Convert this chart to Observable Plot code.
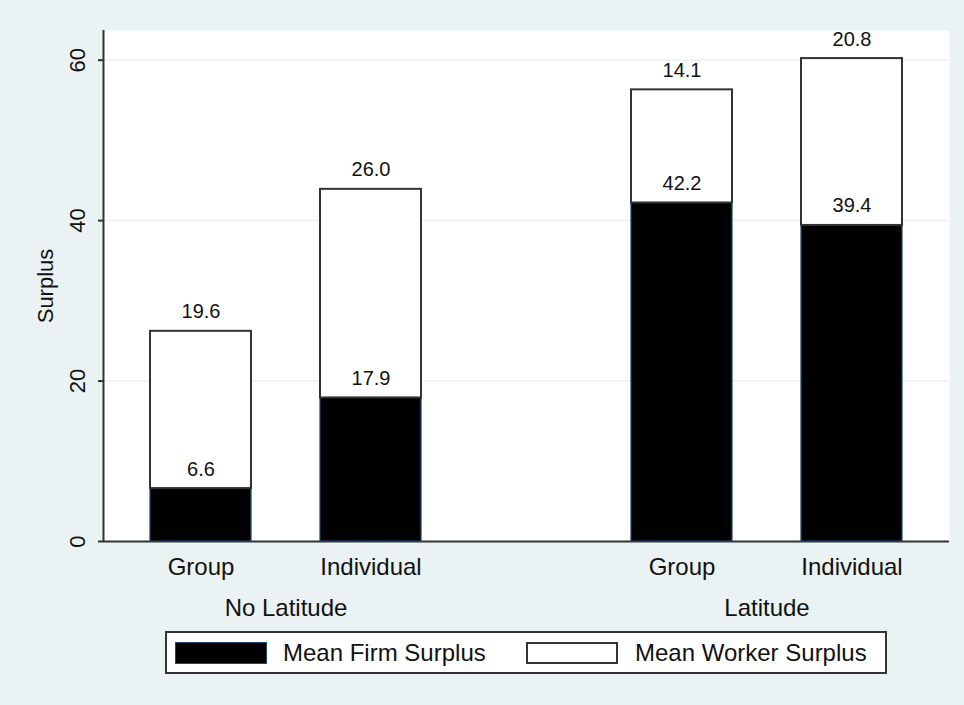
<!DOCTYPE html>
<html>
<head>
<meta charset="utf-8">
<script src="https://cdn.jsdelivr.net/npm/d3@7"></script>
<script src="https://cdn.jsdelivr.net/npm/@observablehq/plot@0.6"></script>
<style>
  html, body { margin: 0; padding: 0; background: #EAF2F3; }
  #wrap { position: relative; width: 964px; height: 705px; font-family: Arial, "Liberation Sans", sans-serif; color: #111; }
  #wrap > .layer { position: absolute; left: 0; top: 0; }
  #legend { position: absolute; left: 165px; top: 631px; width: 722px; height: 43px; box-sizing: border-box;
            border: 2px solid #333; background: #fff; }
  .sw { position: absolute; top: 9px; width: 92px; height: 22px; box-sizing: border-box; }
  .lt { position: absolute; top: 5px; font-size: 24px; line-height: 30px; white-space: nowrap; }
</style>
</head>
<body>
<div id="wrap"></div>
<script>
// ---- data ----
const conditions = ["No Latitude", "Latitude"];
const types = ["Group", "Individual"];
const seriesNames = ["Mean Firm Surplus", "Mean Worker Surplus"];
const firmSurplus = [6.6, 17.9, 42.2, 39.4];     // No Lat Group, No Lat Indiv, Lat Group, Lat Indiv
const workerSurplus = [19.6, 26.0, 14.1, 20.8];
const yTicks = [0, 20, 40, 60];
const yMax = 63.7;

const fills = {"Mean Firm Surplus": "black", "Mean Worker Surplus": "white"};
const strokes = {"Mean Firm Surplus": "#1a476f", "Mean Worker Surplus": "#333333"};
const strokeWidths = {"Mean Firm Surplus": 1.2, "Mean Worker Surplus": 2};

const rows = [];
conditions.forEach((c, ci) => types.forEach((t, ti) => {
  const i = ci * 2 + ti;
  rows.push({cond: c, type: t, series: seriesNames[0], value: firmSurplus[i]});
  rows.push({cond: c, type: t, series: seriesNames[1], value: workerSurplus[i]});
}));

const W = 964, H = 622;
const margins = {marginTop: 30, marginLeft: 103, marginRight: 15, marginBottom: 81};
const font = 'Arial, "Liberation Sans", sans-serif';

// background layer: plot region, grid, y axis, axis lines
const bg = Plot.plot({
  width: W, height: H, ...margins,
  style: {background: "transparent", fontFamily: font, color: "#111", overflow: "visible"},
  x: {domain: [0, 1], axis: null},
  y: {domain: [0, yMax], axis: null},
  marks: [
    Plot.frame({fill: "white", stroke: "none"}),
    Plot.ruleY(yTicks, {stroke: "#EAF2F3", strokeWidth: 1.5}),
    Plot.axisY({ticks: yTicks, tickSize: 5, tickPadding: 14, tickRotate: -90, fontSize: 22,
                stroke: "#333", strokeWidth: 2, label: "Surplus", labelAnchor: "center", labelOffset: 66, labelArrow: "none"}),
    Plot.ruleX([0], {stroke: "#333", strokeWidth: 2}),
    Plot.ruleY([0], {stroke: "#333", strokeWidth: 2})
  ]
});
bg.classList.add("layer");

// bars layer
const fg = Plot.plot({
  width: W, height: H, ...margins,
  style: {background: "transparent", fontFamily: font, color: "#111", overflow: "visible"},
  fx: {domain: conditions, paddingInner: 0.2412, paddingOuter: 0},
  x: {domain: types, paddingInner: 0.405, paddingOuter: 0.27},
  y: {domain: [0, yMax], axis: null},
  marks: [
    Plot.barY(rows, Plot.stackY({
      fx: "cond", x: "type", y: "value",
      fill: d => fills[d.series], stroke: d => strokes[d.series], strokeWidth: d => strokeWidths[d.series]
    })),
    Plot.text(rows, Plot.stackY2({
      fx: "cond", x: "type", y: "value", text: d => d.value.toFixed(1),
      fontSize: 20, fill: "#111", lineAnchor: "bottom", dy: -13
    })),
    Plot.axisX({tickSize: 0, tickPadding: 16, fontSize: 24, label: null}),
    Plot.axisFx({anchor: "bottom", tickSize: 0, tickPadding: 57, fontSize: 24, label: null})
  ]
});
fg.classList.add("layer");

const wrap = document.getElementById("wrap");
wrap.appendChild(bg);
wrap.appendChild(fg);

// legend
const legend = document.createElement("div");
legend.id = "legend";
const swLeft = [8, 359], txtLeft = [116, 468];
seriesNames.forEach((s, i) => {
  const sw = document.createElement("div");
  sw.className = "sw";
  sw.style.left = swLeft[i] + "px";
  sw.style.background = fills[s];
  sw.style.border = (i === 0 ? "1.2px solid #1a476f" : "2px solid #333");
  legend.appendChild(sw);
  const t = document.createElement("div");
  t.className = "lt";
  t.style.left = txtLeft[i] + "px";
  t.textContent = s;
  legend.appendChild(t);
});
wrap.appendChild(legend);
</script>
</body>
</html>
